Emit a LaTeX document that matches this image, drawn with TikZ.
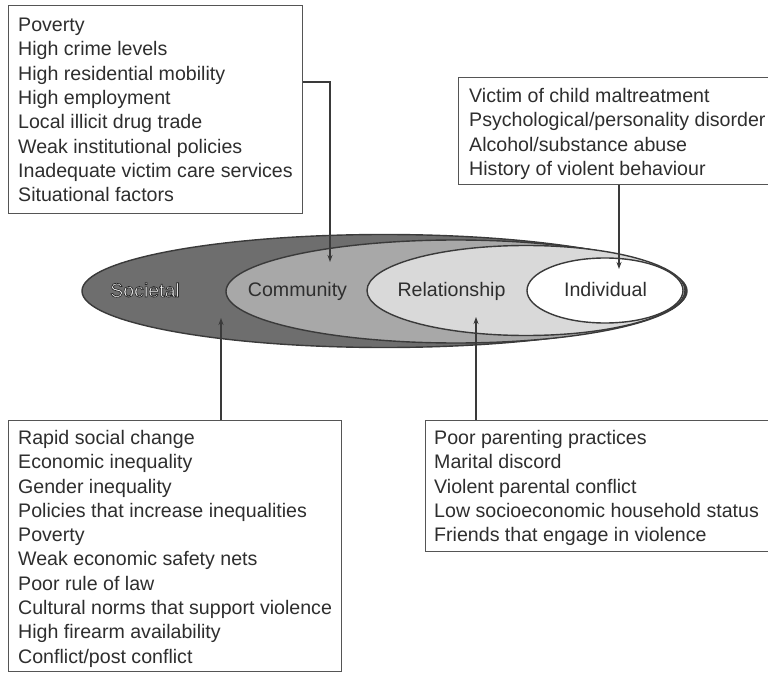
\documentclass[tikz,border=0pt]{standalone}
\usepackage{fontspec}
\setmainfont{Liberation Sans}
\usetikzlibrary{arrows.meta,shapes.geometric}
\definecolor{soccol}{HTML}{6E6E6E}
\definecolor{comcol}{HTML}{A8A8A8}
\definecolor{relcol}{HTML}{D9D9D9}
\definecolor{edgecol}{HTML}{3A3A3A}
\definecolor{boxcol}{HTML}{555555}
\definecolor{txtcol}{HTML}{2E2E2E}
\newcommand\lfs{\fontsize{19.6}{24.3}\selectfont}
\begin{document}
\begin{tikzpicture}[x=1pt,y=-1pt,
  lay/.style={ellipse, draw=edgecol, line width=1.4pt, inner sep=0pt},
  lbl/.style={anchor=base, text=txtcol, inner sep=0pt, font=\lfs},
  framebox/.style={draw=boxcol, line width=1.3pt, anchor=north west, inner sep=0pt, fill=white},
  listtext/.style={anchor=north west, align=left, inner sep=0pt, text=txtcol, font=\lfs},
  conn/.style={draw=edgecol, line width=1.1pt, -{Stealth[length=7pt,width=5pt]}}]
\useasboundingbox (0,0) rectangle (768,676);
\clip (0,0) rectangle (768,676);
\fill[white] (0,0) rectangle (768,676);
% layers
\node[lay, fill=soccol, minimum width=605pt, minimum height=113pt] (soc) at (384.5,291) {};
\node[lay, fill=comcol, minimum width=460pt, minimum height=103pt] (com) at (456,291.5) {};
\node[lay, fill=relcol, minimum width=318pt, minimum height=90pt] (rel) at (526,290.5) {};
\node[lay, fill=white, minimum width=156pt, minimum height=65pt] (ind) at (605,290.5) {};
% boxes
\node[framebox, minimum width=294pt, minimum height=208pt] (combox) at (8,5) {};
\node[listtext] (comtext) at (18,18) {Poverty\\High crime levels\\High residential mobility\\High employment\\Local illicit drug trade\\Weak institutional policies\\Inadequate victim care services\\Situational factors};
\node[framebox, minimum width=340pt, minimum height=107pt] (indbox) at (458,77) {};
\node[listtext] (indtext) at (469,88) {Victim of child maltreatment\\Psychological/personality disorder\\Alcohol/substance abuse\\History of violent behaviour};
\node[framebox, minimum width=333pt, minimum height=251pt] (socbox) at (8,420) {};
\node[listtext] (soctext) at (18,430) {Rapid social change\\Economic inequality\\Gender inequality\\Policies that increase inequalities\\Poverty\\Weak economic safety nets\\Poor rule of law\\Cultural norms that support violence\\High firearm availability\\Conflict/post conflict};
\node[framebox, minimum width=360pt, minimum height=131pt] (relbox) at (425,420) {};
\node[listtext] (reltext) at (434,430) {Poor parenting practices\\Marital discord\\Violent parental conflict\\Low socioeconomic household status\\Friends that engage in violence};
% connectors
\coordinate (comtip) at (330,262);
\coordinate (indtip) at (619,269);
\coordinate (soctip) at (221,318);
\coordinate (reltip) at (476,317);
\draw[conn] ([yshift=-77pt]combox.north east) -| (comtip);
\draw[conn] (indtip |- indbox.south) -- (indtip);
\draw[conn] (soctip |- socbox.north) -- (soctip);
\draw[conn] (reltip |- relbox.north) -- (reltip);
% labels
\node[lbl] (comlbl) at (297.5,297) {Community};
\node[lbl] (rellbl) at (451.5,297) {Relationship};
\node[lbl] (indlbl) at (605.5,297) {Individual};
\node[lbl, text=white] (soclbl) at (145,297) {\special{pdf:literal direct 0.15 0.15 0.15 RG 0.7 w 2 Tr}Societal\special{pdf:literal direct 0 Tr}};
\end{tikzpicture}
\end{document}
